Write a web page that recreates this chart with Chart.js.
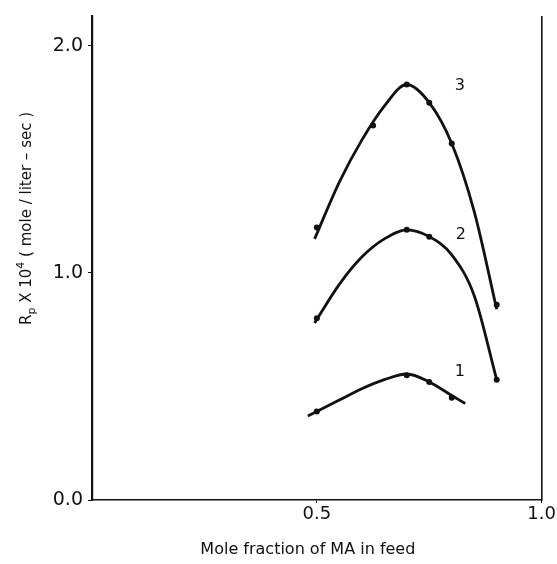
<!DOCTYPE html>
<html>
<head>
<meta charset="utf-8">
<script src="https://cdn.jsdelivr.net/npm/chart.js@4/dist/chart.umd.min.js"></script>
<style>
  html, body { margin: 0; padding: 0; background: #fff; }
  #wrap { width: 557px; height: 564px; position: relative; }
</style>
</head>
<body>
<div id="wrap"><canvas id="c"></canvas></div>
<script>
// measured points (markers)
var run1X = [0.5, 0.7, 0.75, 0.8];
var run1Y = [0.39, 0.55, 0.52, 0.45];
var run2X = [0.5, 0.7, 0.75, 0.9];
var run2Y = [0.80, 1.19, 1.16, 0.53];
var run3X = [0.5, 0.625, 0.7, 0.75, 0.8, 0.9];
var run3Y = [1.20, 1.65, 1.83, 1.75, 1.57, 0.86];

// hand-drawn fitted curves
var curve1X = [0.48, 0.55, 0.6, 0.65, 0.7, 0.75, 0.8, 0.83];
var curve1Y = [0.37, 0.44, 0.49, 0.53, 0.555, 0.52, 0.46, 0.425];
var curve2X = [0.495, 0.55, 0.6, 0.65, 0.7, 0.75, 0.8, 0.85, 0.9];
var curve2Y = [0.78, 0.95, 1.07, 1.15, 1.19, 1.16, 1.08, 0.90, 0.53];
var curve3X = [0.495, 0.55, 0.6, 0.65, 0.7, 0.75, 0.8, 0.85, 0.9];
var curve3Y = [1.15, 1.40, 1.585, 1.735, 1.83, 1.75, 1.57, 1.27, 0.84];

var curveLabels = ['1', '2', '3'];
var labelX = [0.818, 0.82, 0.818];
var labelY = [0.566, 1.17, 1.825];

var xTicks = [0.5, 1.0];
var yTicks = [0.0, 1.0, 2.0];

var xTitle = 'Mole fraction of MA in feed';

var ink = '#111';
var font = "'DejaVu Sans', sans-serif";

function pairs(xs, ys) {
  return xs.map(function(x, i) { return { x: x, y: ys[i] }; });
}

function curveSet(xs, ys) {
  return {
    data: pairs(xs, ys),
    showLine: true,
    borderColor: ink,
    borderWidth: 2.8,
    cubicInterpolationMode: 'monotone',
    pointRadius: 0,
    fill: false
  };
}

function pointSet(xs, ys) {
  return {
    data: pairs(xs, ys),
    showLine: false,
    backgroundColor: ink,
    borderColor: ink,
    pointRadius: 3,
    borderWidth: 0
  };
}

// curve numbers + axis titles (y title with real sub/superscript)
var extraText = {
  id: 'extraText',
  afterDatasetsDraw: function(chart) {
    var ctx = chart.ctx, xs = chart.scales.x, ys = chart.scales.y;
    ctx.save();
    ctx.fillStyle = ink;
    ctx.font = '16px ' + font;
    ctx.textAlign = 'center';
    ctx.textBaseline = 'middle';
    curveLabels.forEach(function(t, i) {
      ctx.fillText(t, xs.getPixelForValue(labelX[i]), ys.getPixelForValue(labelY[i]));
    });
    // x title sits slightly left of the plot centre in the original
    ctx.fillText(xTitle, xs.getPixelForValue(0.48), chart.height - 14);
    ctx.restore();

    var parts = [
      ['R', 15, 0], ['p', 11, 4], [' X 10', 15, 0], ['4', 11, -7],
      [' ( mole / liter \u2013 sec )', 15, 0]
    ];
    ctx.save();
    var total = 0;
    parts.forEach(function(p) { ctx.font = p[1] + 'px ' + font; total += ctx.measureText(p[0]).width; });
    ctx.translate(31, ys.getPixelForValue(1.24));
    ctx.rotate(-Math.PI / 2);
    ctx.fillStyle = ink;
    ctx.textBaseline = 'alphabetic';
    ctx.textAlign = 'left';
    var x = -total / 2;
    parts.forEach(function(p) {
      ctx.font = p[1] + 'px ' + font;
      ctx.fillText(p[0], x, p[2]);
      x += ctx.measureText(p[0]).width;
    });
    ctx.restore();
  }
};

new Chart(document.getElementById('c'), {
  type: 'scatter',
  data: {
    datasets: [
      curveSet(curve1X, curve1Y),
      curveSet(curve2X, curve2Y),
      curveSet(curve3X, curve3Y),
      pointSet(run1X, run1Y),
      pointSet(run2X, run2Y),
      pointSet(run3X, run3Y)
    ]
  },
  options: {
    responsive: true,
    maintainAspectRatio: false,
    animation: false,
    layout: { padding: { top: 14, left: 0, right: 0, bottom: 0 } },
    plugins: { legend: { display: false }, tooltip: { enabled: false } },
    scales: {
      x: {
        type: 'linear',
        min: 0,
        max: 1,
        afterBuildTicks: function(s) { s.ticks = xTicks.map(function(v) { return { value: v }; }); },
        afterFit: function(s) { s.height = 64; },
        grid: { display: true, drawOnChartArea: false, tickLength: 3, color: ink },
        border: { display: true, color: ink, width: 1.6 },
        ticks: {
          color: ink, font: { family: font, size: 18 }, padding: 1, maxRotation: 0,
          callback: function(v) { return v.toFixed(1); }
        }
      },
      y: {
        type: 'linear',
        min: 0,
        max: 2.13,
        afterBuildTicks: function(s) { s.ticks = yTicks.map(function(v) { return { value: v }; }); },
        afterFit: function(s) { s.width = 92; },
        grid: { display: true, drawOnChartArea: false, tickLength: 4, color: ink },
        border: { display: true, color: ink, width: 2.2 },
        ticks: {
          color: ink, font: { family: font, size: 19 }, padding: 5,
          callback: function(v) { return v.toFixed(1); }
        }
      },
      y2: {
        type: 'linear',
        position: 'right',
        min: 0,
        max: 2.13,
        afterFit: function(s) { s.width = 14; },
        grid: { display: false },
        border: { display: true, color: ink, width: 1.6 },
        ticks: { display: false }
      }
    }
  },
  plugins: [extraText]
});
</script>
</body>
</html>
